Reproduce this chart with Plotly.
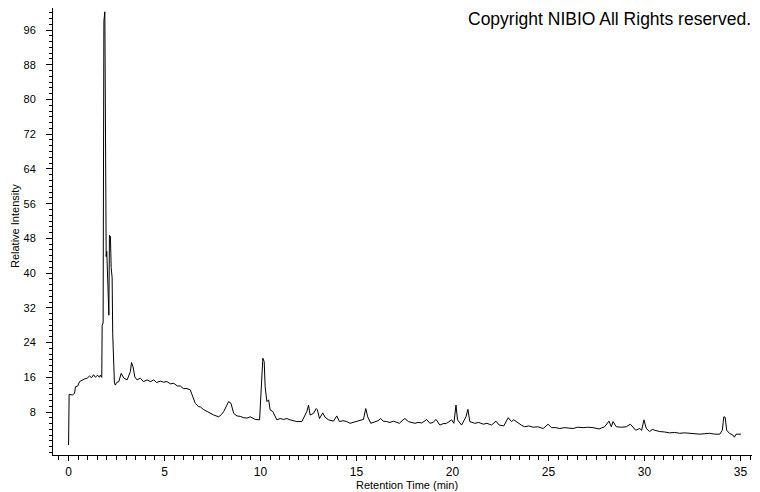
import plotly.graph_objects as go

# Retention time (min) and relative intensity
time_min = [
    0.00, 0.03, 0.19, 0.31, 0.36, 0.48, 0.57, 0.71, 0.83, 0.97, 1.09, 1.20, 1.30, 1.40, 1.51,
    1.61, 1.66, 1.73, 1.75, 1.80, 1.82, 1.84, 1.89, 1.91, 1.94, 1.96, 1.99, 2.02, 2.06, 2.10,
    2.13, 2.18, 2.22, 2.27, 2.30, 2.36, 2.39, 2.44, 2.50, 2.62, 2.74, 2.88, 3.05, 3.22, 3.28,
    3.36, 3.45, 3.57, 3.74, 3.90, 4.09, 4.26, 4.44, 4.58, 4.78, 4.94, 5.13, 5.30, 5.48, 5.67,
    5.82, 5.98, 6.17, 6.34, 6.43, 6.50, 6.60, 6.78, 6.86, 7.02, 7.21, 7.38, 7.56, 7.82, 7.96,
    8.08, 8.25, 8.34, 8.46, 8.60, 8.77, 8.94, 9.12, 9.29, 9.46, 9.72, 9.95, 10.02, 10.12, 10.19,
    10.24, 10.33, 10.42, 10.50, 10.64, 10.85, 11.02, 11.20, 11.37, 11.54, 11.70, 11.89, 12.15, 12.27, 12.41,
    12.50, 12.58, 12.76, 12.90, 12.96, 13.07, 13.24, 13.36, 13.54, 13.80, 13.97, 14.11, 14.30, 14.49, 14.66,
    14.82, 15.01, 15.18, 15.36, 15.48, 15.58, 15.74, 15.96, 16.12, 16.26, 16.38, 16.57, 16.74, 16.92, 17.06,
    17.23, 17.37, 17.52, 17.70, 17.84, 18.04, 18.20, 18.39, 18.51, 18.65, 18.82, 18.98, 19.14, 19.34, 19.50,
    19.69, 19.95, 20.07, 20.18, 20.26, 20.47, 20.70, 20.80, 20.90, 21.16, 21.37, 21.60, 21.79, 22.03, 22.26,
    22.43, 22.67, 22.90, 23.07, 23.19, 23.33, 23.47, 23.61, 23.76, 23.97, 24.20, 24.44, 24.72, 24.98, 25.15,
    25.38, 25.58, 25.84, 26.05, 26.28, 26.52, 26.80, 27.04, 27.32, 27.63, 27.92, 28.15, 28.27, 28.36, 28.53,
    28.79, 29.05, 29.26, 29.40, 29.54, 29.75, 29.85, 29.97, 30.09, 30.27, 30.40, 30.53, 30.79, 31.05, 31.31,
    31.57, 31.83, 32.09, 32.36, 32.62, 32.88, 33.14, 33.38, 33.66, 33.92, 34.05, 34.13, 34.20, 34.28, 34.42,
    34.60, 34.68, 34.77, 35.03,
]
intensity = [
    0.4, 12.1, 11.9, 12.3, 13.8, 14.0, 15.0, 15.4, 15.6, 15.8, 16.3, 15.9, 16.6, 16.0, 16.5,
    16.0, 16.5, 16.0, 28.0, 28.5, 61.8, 98.0, 100.2, 82.0, 81.5, 43.8, 45.0, 42.0, 34.0, 30.3,
    48.7, 48.5, 41.3, 38.9, 26.0, 18.8, 14.6, 14.2, 14.8, 15.0, 16.9, 15.8, 15.4, 17.3, 19.4,
    18.4, 16.1, 15.4, 15.8, 15.0, 15.4, 15.0, 15.4, 14.8, 15.1, 14.9, 15.0, 14.5, 14.6, 14.0,
    14.0, 13.4, 13.4, 13.1, 11.9, 11.0, 10.0, 9.2, 9.2, 8.6, 8.1, 7.6, 7.3, 6.9, 7.4,
    8.1, 9.6, 10.4, 10.0, 7.7, 7.1, 7.0, 6.7, 6.6, 6.9, 6.3, 6.2, 11.9, 20.4, 19.6,
    13.8, 10.4, 10.8, 8.5, 8.1, 6.2, 6.5, 6.3, 6.5, 6.2, 6.0, 5.8, 5.8, 6.9, 8.1,
    9.6, 7.3, 7.7, 8.8, 8.5, 6.5, 7.8, 6.8, 6.2, 5.9, 7.1, 5.8, 6.0, 5.8, 5.4,
    5.6, 5.9, 6.0, 6.3, 8.8, 6.9, 5.4, 5.8, 6.0, 6.5, 5.9, 5.8, 5.6, 5.9, 5.6,
    5.4, 6.0, 6.5, 5.8, 5.6, 5.4, 5.6, 5.5, 5.8, 6.3, 5.4, 5.6, 6.3, 5.0, 5.3,
    5.4, 6.2, 5.4, 9.6, 6.2, 5.0, 6.9, 8.6, 5.8, 5.4, 5.6, 5.2, 5.4, 5.0, 5.9,
    5.0, 4.8, 6.7, 5.8, 6.2, 5.8, 5.2, 4.9, 4.6, 4.8, 4.5, 4.6, 4.2, 5.2, 4.4,
    4.4, 4.2, 4.4, 4.3, 4.2, 4.5, 4.4, 4.5, 4.4, 4.1, 4.6, 5.9, 4.6, 5.8, 4.6,
    4.5, 4.6, 5.2, 4.6, 3.8, 4.2, 3.8, 6.2, 4.2, 3.5, 4.0, 3.8, 3.5, 3.4, 3.2,
    3.3, 3.1, 3.2, 3.1, 3.0, 2.9, 3.0, 3.1, 2.9, 2.9, 3.8, 6.9, 6.8, 3.8, 3.1,
    2.7, 2.2, 2.9, 2.9,
]

x_ticks = [0, 5, 10, 15, 20, 25, 30, 35]
y_ticks = [8, 16, 24, 32, 40, 48, 56, 64, 72, 80, 88, 96]

FONT = "Liberation Sans, Arial, sans-serif"

# The page body adds an 8px offset, so the figure is 752x484 and
# every position below is in figure pixels (screen pixel minus 8).
W, H = 752, 484
L, R, T, B = 45, 2, 0, 37
PW, PH = W - L - R, H - T - B

fig = go.Figure()
fig.add_trace(go.Scatter(
    x=time_min, y=intensity, mode="lines",
    line=dict(color="black", width=1), hoverinfo="skip", showlegend=False,
))

fig.update_layout(
    width=W, height=H,
    margin=dict(l=L, r=R, t=T, b=B, pad=0, autoexpand=False),
    paper_bgcolor="white", plot_bgcolor="white",
    font=dict(family=FONT, color="black", size=11),
    showlegend=False,
)

fig.update_xaxes(
    range=[-0.81, 35.91], showgrid=False, zeroline=False,
    showline=True, linecolor="black", linewidth=1,
    tickmode="array", tickvals=x_ticks, ticktext=[str(v) for v in x_ticks],
    ticks="outside", ticklen=5, tickcolor="black", tickwidth=1,
    tickfont=dict(family=FONT, size=12, color="black"),
    ticklabelstandoff=1, automargin=False,
    minor=dict(dtick=0.5, tick0=0, ticks="outside", ticklen=4, tickcolor="black", tickwidth=1, showgrid=False),
)
fig.update_yaxes(
    range=[-1.9, 101.07], showgrid=False, zeroline=False,
    showline=True, linecolor="black", linewidth=1,
    tickmode="array", tickvals=y_ticks, ticktext=[str(v) for v in y_ticks],
    ticks="outside", ticklen=6, tickcolor="black", tickwidth=1,
    tickfont=dict(family=FONT, size=11, color="black"),
    ticklabelstandoff=8, automargin=False,
    minor=dict(dtick=8 / 6, tick0=0, ticks="outside", ticklen=3, tickcolor="black", tickwidth=1, showgrid=False),
)

fig.add_annotation(
    text="Retention Time (min)", xref="paper", yref="paper",
    x=(399 - L) / PW, y=(PH - 477) / PH, xanchor="center", yanchor="middle",
    showarrow=False, borderpad=0, font=dict(family=FONT, size=11, color="black"),
)
fig.add_annotation(
    text="Relative Intensity", xref="paper", yref="paper",
    x=-L / PW, y=(PH - 218) / PH, xanchor="left", yanchor="middle",
    textangle=-90, showarrow=False, borderpad=0,
    font=dict(family=FONT, size=11, color="black"),
)
fig.add_annotation(
    text="Copyright NIBIO All Rights reserved.", xref="paper", yref="paper",
    x=(744 - L) / PW, y=1, xanchor="right", yanchor="top",
    showarrow=False, borderpad=0,
    font=dict(family=FONT, size=17.5, color="black"),
)

fig.write_html("out.html")
